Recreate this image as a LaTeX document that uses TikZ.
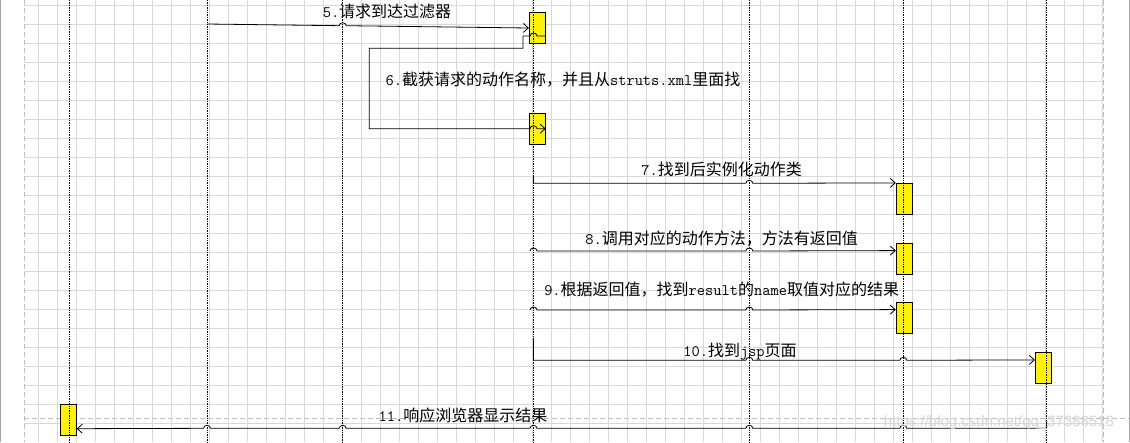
\documentclass[tikz,border=0pt]{standalone}
\usepackage{fontspec}
\newfontfamily\cjk{Noto Sans CJK SC}
\newfontfamily\wmfont{Liberation Sans}
\usetikzlibrary{arrows.meta}

\tikzset{
  gridline/.style={gray!30, line width=1pt},
  pageline/.style={gray!50, dash pattern=on 5pt off 3pt, line width=0.8pt},
  lifeline/.style={black, line width=0.7pt, dash pattern=on 1.4pt off 1pt},
  actbox/.style={draw, fill=yellow, line width=0.8pt, minimum width=16pt, minimum height=31pt, inner sep=0pt},
  msg/.style={line width=0.8pt, -{Straight Barb[length=5pt,width=9pt]}},
  lbl/.style={font=\cjk\fontsize{16}{16}\selectfont, inner sep=0pt}
}

% salto sobre a linha de vida (para a direita / para a esquerda)
\newcommand\hopR[2]{-- (#1-3.5,#2) arc[start angle=180, end angle=0, x radius=3.5pt, y radius=3pt]}
\newcommand\hopL[2]{-- (#1+3.5,#2) arc[start angle=0, end angle=180, x radius=3.5pt, y radius=3pt]}

\begin{document}
\begin{tikzpicture}[x=1pt, y=-1pt]

\useasboundingbox (0,0) rectangle (1130,442);

% Grade de fundo
\foreach \k in {0,...,56}
  \draw[gridline] ({38.3+19.01*\k},0) -- ({38.3+19.01*\k},442);
\foreach \k in {0,...,22}
  \draw[gridline] (24,{5+19.03*\k}) -- (1104,{5+19.03*\k});

% Bordas da pagina
\fill[black!35] (0,0) rectangle (1.3,442);
\fill[black!35] (1128.7,0) rectangle (1130,442);
\draw[pageline] (24.5,0) -- (24.5,442);
\draw[pageline] (1103.7,0) -- (1103.7,442);
\draw[pageline] (24,418.7) -- (1130,418.7);

% Caixas de ativacao
\node[actbox] (a1) at (537.3,28) {};
\node[actbox] (a2) at (537.3,128.7) {};
\node[actbox] (b1) at (904.2,198.8) {};
\node[actbox] (b2) at (904.2,258.8) {};
\node[actbox] (b3) at (904.2,318.2) {};
\node[actbox] (c1) at (1043.3,368.3) {};
\node[actbox] (d1) at (68.3,419.8) {};

% Linhas de vida
\foreach \x in {69.3,207,342.7,533.5,749.3,903.3,1046.7}
  \draw[lifeline] (\x,0) -- (\x,442);

% Pontos de partida das mensagens
\coordinate (s5) at (207,24);
\coordinate (s7) at (533.5,177);
\coordinate (s8) at (530,251);
\coordinate (s9) at (530,310);
\coordinate (s10) at (533.5,340);
\coordinate (s11) at (1046.7,420);

% Mensagens
\draw[msg] (s5) \hopR{342.7}{25.7} -- (a1.west);
\draw[msg] ([yshift=-8pt]a1.east) \hopL{533.5}{36} -- (523,36) -- (523,48.3)
  -- (369.3,48.3) -- (369.3,128.7) \hopR{533.5}{128.7} -- (a2.east);
\draw[msg] (s7) -- (533.5,183.3) \hopR{749.3}{183.3} -- (b1.north west);
\draw[msg] (s8) arc[start angle=180, end angle=0, x radius=3.5pt, y radius=3pt]
  \hopR{749.3}{251} -- ([yshift=-7.7pt]b2.north west);
\draw[msg] (s9) arc[start angle=180, end angle=0, x radius=3.5pt, y radius=3pt]
  \hopR{749.3}{310} -- ([yshift=-7.3pt]b3.north west);
\draw[msg] (s10) -- (533.5,360.3) \hopR{749.3}{360.3} \hopR{903.3}{360.3}
  -- ([yshift=-7.5pt]c1.north west);
\draw[msg] (s11) -- (1046.7,428.3) \hopL{903.3}{428.3} \hopL{749.3}{428.3}
  \hopL{533.5}{428.3} \hopL{342.7}{428.3} \hopL{207}{428.3} -- ([yshift=7pt]d1.south east);

% Rotulos
\node[lbl] (t5) at (387,11) {\texttt{5.}请求到达过滤器};
\node[lbl] (t6) at (563,80) {\texttt{6.}截获请求的动作名称，并且从\texttt{struts.xml}里面找};
\node[lbl] (t7) at (721.7,169) {\texttt{7.}找到后实例化动作类};
\node[lbl] (t8) at (721.7,238.3) {\texttt{8.}调用对应的动作方法，方法有返回值};
\node[lbl] (t9) at (721.7,289.3) {\texttt{9.}根据返回值，找到\texttt{result}的\texttt{name}取值对应的结果};
\node[lbl] (t10) at (740,352) {\texttt{10.}找到\texttt{jsp}页面};
\node[lbl] (t11) at (463,415) {\texttt{11.}响应浏览器显示结果};

% Marca d'agua
\node[font=\wmfont\fontsize{15}{15}\selectfont, text=black!17, inner sep=0pt] (wm) at (999,423)
  {https://blog.csdn.net/qq\_37388518};

\end{tikzpicture}
\end{document}
